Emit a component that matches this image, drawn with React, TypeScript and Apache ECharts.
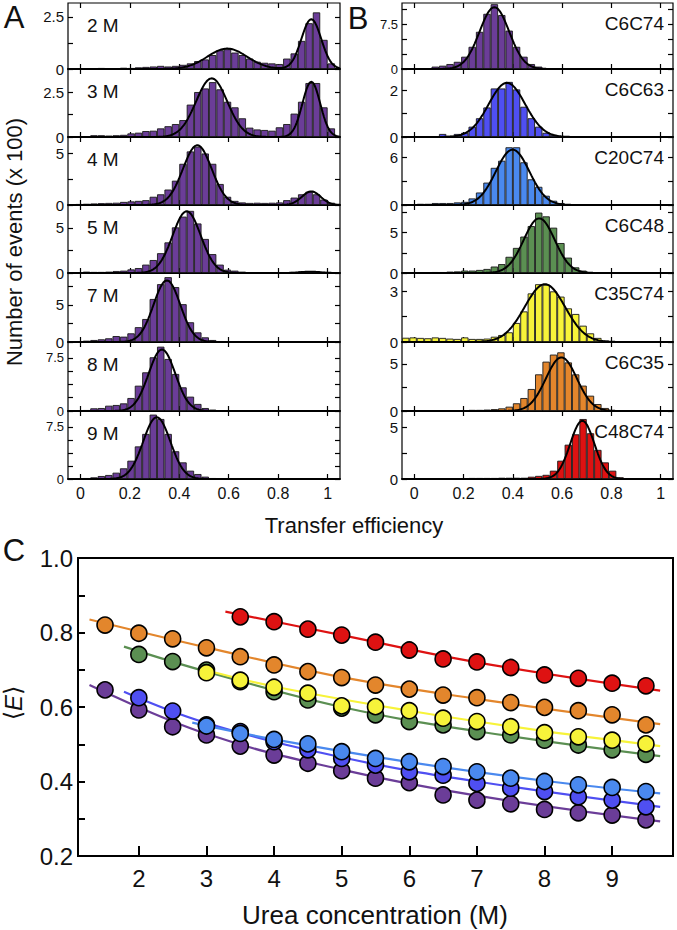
import React, { useEffect, useRef } from 'react';
import * as echarts from 'echarts';

// ---------- Data ----------
const binCenters = [-0.035, -0.005, 0.025, 0.055, 0.085, 0.115, 0.145, 0.175, 0.205, 0.235, 0.265, 0.295, 0.325, 0.355, 0.385, 0.415, 0.445, 0.475, 0.505, 0.535, 0.565, 0.595, 0.625, 0.655, 0.685, 0.715, 0.745, 0.775, 0.805, 0.835, 0.865, 0.895, 0.925, 0.955, 0.985, 1.015];

const ureaLabels = ['2 M', '3 M', '4 M', '5 M', '7 M', '8 M', '9 M'];
const variantLabels = ['C6C74', 'C6C63', 'C20C74', 'C6C48', 'C35C74', 'C6C35', 'C48C74'];

const h2M = [0.01, 0.02, 0.02, 0.03, 0.05, 0.04, 0.03, 0.06, 0.05, 0.08, 0.1, 0.12, 0.15, 0.12, 0.15, 0.2, 0.27, 0.38, 0.46, 0.67, 0.9, 0.95, 0.79, 0.67, 0.5, 0.35, 0.3, 0.27, 0.24, 0.5, 0.75, 1.35, 2.2, 2.72, 1.4, 0.27];
const h3M = [0.02, 0.03, 0.05, 0.1, 0.1, 0.08, 0.1, 0.12, 0.2, 0.24, 0.33, 0.35, 0.48, 0.6, 0.72, 0.94, 1.8, 2.5, 2.7, 3.05, 2.65, 1.96, 1.65, 1.04, 0.52, 0.42, 0.39, 0.35, 0.54, 0.72, 1.3, 1.96, 3.0, 3.0, 1.65, 0.48];
const h4M = [0.05, 0.1, 0.12, 0.15, 0.18, 0.2, 0.22, 0.3, 0.35, 0.4, 0.47, 0.8, 1.04, 1.5, 2.36, 4.0, 5.2, 5.66, 5.0, 4.0, 2.04, 0.8, 0.4, 0.25, 0.2, 0.22, 0.2, 0.22, 0.25, 0.47, 0.72, 1.04, 1.3, 1.04, 0.53, 0.22];
const h5M = [0.04, 0.08, 0.15, 0.12, 0.12, 0.15, 0.22, 0.26, 0.4, 0.55, 0.93, 1.44, 2.2, 3.4, 5.07, 6.26, 6.9, 5.5, 3.78, 2.1, 0.93, 0.37, 0.26, 0.15, 0.1, 0.08, 0.06, 0.06, 0.08, 0.1, 0.12, 0.18, 0.2, 0.18, 0.12, 0.06];
const h7M = [0.03, 0.08, 0.18, 0.27, 0.36, 0.5, 0.8, 0.72, 1.17, 2.0, 3.1, 5.8, 7.8, 8.74, 7.4, 5.1, 2.66, 1.3, 0.63, 0.27, 0.13, 0.06, 0.05, 0.05, 0.04, 0.04, 0.03, 0.03, 0.03, 0.02, 0.02, 0.02, 0.02, 0.02, 0.02, 0.02];
const h8M = [0.02, 0.05, 0.14, 0.38, 0.42, 0.75, 0.85, 1.08, 1.84, 3.58, 5.47, 7.6, 9.1, 7.36, 5.24, 3.35, 2.03, 1.0, 0.42, 0.2, 0.08, 0.05, 0.04, 0.04, 0.03, 0.03, 0.03, 0.02, 0.02, 0.02, 0.02, 0.02, 0.02, 0.02, 0.02, 0.02];
const h9M = [0.02, 0.05, 0.14, 0.24, 0.43, 0.58, 0.91, 1.54, 2.64, 4.7, 6.5, 9.28, 8.65, 6.5, 4.0, 2.4, 1.2, 0.72, 0.34, 0.14, 0.06, 0.04, 0.03, 0.03, 0.03, 0.02, 0.02, 0.02, 0.02, 0.02, 0.02, 0.02, 0.02, 0.02, 0.02, 0.02];

const hC6C74 = [0.02, 0.05, 0.1, 0.1, 0.4, 0.55, 0.83, 1.2, 2.05, 3.7, 6.2, 9.2, 10.8, 9.0, 6.4, 3.7, 2.05, 0.83, 0.4, 0.1, 0.05, 0.03, 0.03, 0.03, 0.03, 0.03, 0.03, 0.03, 0.03, 0.03, 0.03, 0.05, 0.05, 0.05, 0.05, 0.05];
const hC6C63 = [0.01, 0.02, 0.02, 0.03, 0.03, 0.13, 0.05, 0.13, 0.18, 0.44, 0.8, 1.26, 2.07, 2.07, 2.35, 2.03, 1.29, 0.8, 0.44, 0.18, 0.09, 0.04, 0.02, 0.02, 0.02, 0.02, 0.02, 0.02, 0.02, 0.02, 0.02, 0.02, 0.02, 0.02, 0.02, 0.02];
const hC20C74 = [0.08, 0.1, 0.15, 0.15, 0.25, 0.25, 0.25, 0.33, 0.4, 0.83, 1.58, 2.83, 4.7, 5.6, 7.3, 7.3, 5.4, 3.25, 2.3, 1.17, 0.54, 0.25, 0.1, 0.05, 0.05, 0.05, 0.05, 0.05, 0.05, 0.05, 0.05, 0.05, 0.05, 0.05, 0.05, 0.05];
const hC6C48 = [0.03, 0.05, 0.08, 0.1, 0.12, 0.12, 0.17, 0.2, 0.3, 0.3, 0.38, 0.5, 0.8, 1.1, 2.0, 3.1, 4.5, 5.8, 7.46, 7.0, 5.6, 3.7, 1.9, 0.7, 0.3, 0.08, 0.03, 0.03, 0.03, 0.03, 0.03, 0.03, 0.03, 0.03, 0.03, 0.03];
const hC35C74 = [0.25, 0.27, 0.24, 0.22, 0.27, 0.24, 0.2, 0.18, 0.27, 0.18, 0.18, 0.2, 0.31, 0.41, 0.57, 1.12, 1.8, 2.86, 3.4, 3.37, 2.98, 2.67, 1.98, 1.65, 0.96, 0.51, 0.24, 0.08, 0.02, 0.02, 0.02, 0.02, 0.02, 0.02, 0.02, 0.02];
const hC6C35 = [0.02, 0.03, 0.05, 0.05, 0.08, 0.05, 0.08, 0.1, 0.1, 0.12, 0.12, 0.15, 0.2, 0.28, 0.46, 0.82, 1.38, 2.34, 3.9, 5.25, 6.0, 6.24, 5.17, 3.9, 2.7, 1.63, 0.74, 0.32, 0.1, 0.03, 0.03, 0.03, 0.03, 0.03, 0.03, 0.03];
const hC48C74 = [0.03, 0.04, 0.05, 0.05, 0.06, 0.05, 0.06, 0.07, 0.08, 0.1, 0.1, 0.1, 0.1, 0.12, 0.12, 0.12, 0.12, 0.22, 0.3, 0.4, 0.8, 1.76, 3.3, 4.3, 5.77, 4.4, 2.8, 1.6, 0.8, 0.16, 0.05, 0.02, 0.02, 0.02, 0.02, 0.02];

// Gaussian fit parameters: [amplitude, centre, width]
const fit2M = [[0.98, 0.594, 0.08], [2.39, 0.934, 0.04]];
const fit3M = [[3.26, 0.531, 0.063], [3.07, 0.934, 0.036]];
const fit4M = [[5.8, 0.473, 0.058], [1.32, 0.934, 0.038]];
const fit5M = [[6.85, 0.43, 0.057], [0.15, 0.93, 0.04]];
const fit7M = [[8.3, 0.35, 0.054]];
const fit8M = [[8.7, 0.33, 0.054]];
const fit9M = [[8.9, 0.309, 0.055]];
const fitC6C74 = [[10.3, 0.325, 0.06]];
const fitC6C63 = [[2.31, 0.376, 0.074]];
const fitC20C74 = [[7.0, 0.399, 0.068]];
const fitC6C48 = [[6.75, 0.507, 0.063]];
const fitC35C74 = [[3.4, 0.53, 0.082]];
const fitC6C35 = [[5.7, 0.597, 0.063]];
const fitC48C74 = [[5.6, 0.682, 0.049]];

const leftHists = [h2M, h3M, h4M, h5M, h7M, h8M, h9M];
const rightHists = [hC6C74, hC6C63, hC20C74, hC6C48, hC35C74, hC6C35, hC48C74];
const leftFits = [fit2M, fit3M, fit4M, fit5M, fit7M, fit8M, fit9M];
const rightFits = [fitC6C74, fitC6C63, fitC20C74, fitC6C48, fitC35C74, fitC6C35, fitC48C74];

const leftYMax = [3.17, 3.78, 6.6, 7.55, 9.3, 9.76, 9.8];
const rightYMax = [11, 2.9, 8.6, 8.4, 4.06, 7.34, 6.54];
const leftYLabels = [[0, 2.5], [0, 2.5], [0, 5], [0, 5], [0, 5], [0, 7.5], [0, 7.5]];
const leftYTicks = [[0, 1.25, 2.5], [0, 1.25, 2.5], [0, 2.5, 5], [0, 2.5, 5], [0, 2.5, 5, 7.5], [0, 1.875, 3.75, 5.625, 7.5], [0, 1.875, 3.75, 5.625, 7.5]];
const rightYLabels = [[0, 7.5], [0, 2], [0, 6], [0, 5], [0, 3], [0, 5], [0, 5]];
const rightYTicks = [[0, 2.5, 5, 7.5, 10], [0, 1, 2], [0, 3, 6], [0, 2.5, 5, 7.5], [0, 1.5, 3], [0, 2.5, 5], [0, 2.5, 5]];
const effTicks = [0, 0.2, 0.4, 0.6, 0.8, 1];

// Panel C: mean transfer efficiency vs urea
const xFrom15 = [1.5, 2, 2.5, 3, 3.5, 4, 4.5, 5, 5.5, 6, 6.5, 7, 7.5, 8, 8.5, 9, 9.5];
const xFrom2 = [2, 2.5, 3, 3.5, 4, 4.5, 5, 5.5, 6, 6.5, 7, 7.5, 8, 8.5, 9, 9.5];
const xFrom3 = [3, 3.5, 4, 4.5, 5, 5.5, 6, 6.5, 7, 7.5, 8, 8.5, 9, 9.5];
const xFrom35 = [3.5, 4, 4.5, 5, 5.5, 6, 6.5, 7, 7.5, 8, 8.5, 9, 9.5];

const eC6C74 = [0.646, 0.592, 0.547, 0.525, 0.495, 0.471, 0.449, 0.429, 0.409, 0.397, 0.364, 0.35, 0.34, 0.325, 0.316, 0.31, 0.297];
const eC6C63 = [0.625, 0.589, 0.552, 0.534, 0.507, 0.485, 0.462, 0.444, 0.426, 0.417, 0.395, 0.382, 0.373, 0.359, 0.35, 0.332];
const eC20C74 = [0.549, 0.529, 0.513, 0.501, 0.48, 0.462, 0.453, 0.44, 0.426, 0.409, 0.4, 0.391, 0.384, 0.373];
const eC6C48 = [0.741, 0.722, 0.699, 0.668, 0.641, 0.619, 0.597, 0.579, 0.561, 0.552, 0.534, 0.525, 0.511, 0.498, 0.485, 0.473];
const eC35C74 = [0.692, 0.672, 0.653, 0.637, 0.603, 0.601, 0.59, 0.57, 0.561, 0.547, 0.531, 0.52, 0.511, 0.501];
const eC6C35 = [0.82, 0.798, 0.783, 0.759, 0.735, 0.713, 0.695, 0.679, 0.659, 0.648, 0.632, 0.625, 0.612, 0.599, 0.59, 0.579, 0.552];
const eC48C74 = [0.842, 0.829, 0.809, 0.793, 0.774, 0.753, 0.729, 0.721, 0.706, 0.686, 0.677, 0.664, 0.657];

// fitted curves, points
const lineC6C74 = [[1.27, 0.659], [3, 0.528], [5, 0.432], [7, 0.362], [9.71, 0.293]];
const lineC6C63 = [[1.78, 0.641], [3, 0.557], [5, 0.465], [7, 0.4], [9.71, 0.332]];
const lineC20C74 = [[2.79, 0.558], [4, 0.513], [6, 0.452], [8, 0.402], [9.71, 0.368]];
const lineC6C48 = [[1.78, 0.762], [3, 0.695], [5, 0.6], [7, 0.535], [9.71, 0.468]];
const lineC35C74 = [[2.89, 0.704], [4, 0.655], [6, 0.59], [8, 0.535], [9.71, 0.495]];
const lineC6C35 = [[1.27, 0.835], [3, 0.76], [5, 0.68], [7, 0.622], [9.71, 0.554]];
const lineC48C74 = [[3.28, 0.856], [5, 0.793], [7, 0.72], [9.71, 0.644]];

const ureaTicks = [2, 3, 4, 5, 6, 7, 8, 9];
const eTicks = [0.2, 0.3, 0.4, 0.5, 0.6, 0.7, 0.8, 0.9, 1.0];
const eLabels = [0.2, 0.4, 0.6, 0.8, 1.0];

// ---------- Styles ----------
const FONT = '"Liberation Sans", Arial, Helvetica, sans-serif';
const PURPLE = '#6b3d98';
const rightColors = [PURPLE, '#4f4ff2', '#4a89ef', '#5b8f52', '#f7f33a', '#e3862c', '#de1212'];
const panelTops = [3, 69, 137, 205, 273, 342, 411, 479];
const leftYFont = [15, 15, 15, 15, 15, 13, 13];
const rightYFont = [13, 15, 15, 15, 15, 15, 15];

function gaussCurve(params: number[][]) {
  const pts: number[][] = [];
  for (let i = 0; i <= 220; i++) {
    const x = -0.05 + i * 0.005;
    let y = 0;
    for (const [a, c, s] of params) y += a * Math.exp(-((x - c) * (x - c)) / (2 * s * s));
    pts.push([x, y]);
  }
  return pts;
}

function buildOption() {
  const grid: any[] = [];
  const xAxis: any[] = [];
  const yAxis: any[] = [];
  const series: any[] = [];
  const graphic: any[] = [];
  const tickStyle = { color: '#000', width: 1.2 };

  const addPanel = (col: number, i: number, hist: number[], fits: number[][], ymax: number, ylabels: number[], yticks: number[], color: string, yFont: number) => {
    const gi = grid.length;
    const left = col === 0 ? 68 : 402;
    const width = col === 0 ? 272 : 271;
    const top = panelTops[i];
    const height = panelTops[i + 1] - top;
    const isBottom = i === 6;
    grid.push({ left, top, width, height, show: true, borderColor: '#000', borderWidth: 1.2, backgroundColor: 'transparent' });
    xAxis.push({
      gridIndex: gi, type: 'value', min: -0.05, max: 1.05, position: 'bottom',
      axisLine: { show: true, onZero: false, lineStyle: { color: '#000', width: 2 } },
      axisTick: { show: true, inside: true, length: 5, customValues: effTicks, lineStyle: tickStyle },
      axisLabel: { show: isBottom, customValues: effTicks, fontSize: 16, color: '#111', margin: 6, fontFamily: FONT },
      splitLine: { show: false },
    });
    xAxis.push({
      gridIndex: gi, type: 'value', min: -0.05, max: 1.05, position: 'top',
      axisLine: { show: false, onZero: false },
      axisTick: { show: true, inside: true, length: 5, customValues: effTicks, lineStyle: tickStyle },
      axisLabel: { show: false },
      splitLine: { show: false },
    });
    yAxis.push({
      gridIndex: gi, type: 'value', min: 0, max: ymax, position: 'left',
      axisLine: { show: false, onZero: false },
      axisTick: { show: true, inside: true, length: 5, customValues: yticks, lineStyle: tickStyle },
      axisLabel: { show: true, customValues: ylabels, fontSize: yFont, color: '#111', margin: 4, fontFamily: FONT },
      splitLine: { show: false },
    });
    yAxis.push({
      gridIndex: gi, type: 'value', min: 0, max: ymax, position: 'right',
      axisLine: { show: false, onZero: false },
      axisTick: { show: true, inside: true, length: 5, customValues: yticks, lineStyle: tickStyle },
      axisLabel: { show: false },
      splitLine: { show: false },
    });
    series.push({
      type: 'bar', xAxisIndex: 2 * gi, yAxisIndex: 2 * gi,
      data: binCenters.map((c, k) => [c, hist[k]]),
      barWidth: (0.03 * width) / 1.1,
      itemStyle: { color, borderColor: '#1a1a1a', borderWidth: 0.9 },
      silent: true, z: 2,
    });
    series.push({
      type: 'line', xAxisIndex: 2 * gi, yAxisIndex: 2 * gi,
      data: gaussCurve(fits), showSymbol: false, symbol: 'none',
      lineStyle: { color: '#000', width: 2 }, silent: true, z: 3,
    });
    const label = col === 0 ? ureaLabels[i] : variantLabels[i];
    graphic.push({
      type: 'text', x: col === 0 ? 87 : 664, y: top + (col === 0 ? 22 : 20), z: 10,
      style: { text: label, fontSize: 19, fontFamily: FONT, fill: '#111', textAlign: col === 0 ? 'left' : 'right', textVerticalAlign: 'middle' },
    });
  };

  for (let i = 0; i < 7; i++) {
    addPanel(0, i, leftHists[i], leftFits[i], leftYMax[i], leftYLabels[i], leftYTicks[i], PURPLE, leftYFont[i]);
  }
  for (let i = 0; i < 7; i++) {
    addPanel(1, i, rightHists[i], rightFits[i], rightYMax[i], rightYLabels[i], rightYTicks[i], rightColors[i], rightYFont[i]);
  }

  // Panel C
  const gc = grid.length;
  grid.push({ left: 78, top: 558, width: 595, height: 298, show: true, borderColor: '#000', borderWidth: 2 });
  xAxis.push({
    gridIndex: gc, type: 'value', min: 1.1, max: 9.9, position: 'bottom',
    axisLine: { show: true, onZero: false, lineStyle: { color: '#000', width: 2 } },
    axisTick: { show: true, inside: true, length: 10, customValues: ureaTicks, lineStyle: { color: '#000', width: 2 } },
    axisLabel: { show: true, customValues: ureaTicks, fontSize: 24, color: '#111', margin: 10, fontFamily: FONT },
    splitLine: { show: false },
  });
  yAxis.push({
    gridIndex: gc, type: 'value', min: 0.2, max: 1.0, position: 'left',
    axisLine: { show: true, onZero: false, lineStyle: { color: '#000', width: 2 } },
    axisTick: { show: true, inside: true, length: 7, customValues: eTicks, lineStyle: { color: '#000', width: 2 } },
    axisLabel: { show: true, customValues: eLabels, fontSize: 24, color: '#111', margin: 5, fontFamily: FONT, formatter: (v: number) => v.toFixed(1) },
    splitLine: { show: false },
  });
  const cx = xAxis.length - 1;
  const cy = yAxis.length - 1;
  const cSeries = [
    { x: xFrom15, y: eC6C74, line: lineC6C74, color: rightColors[0] },
    { x: xFrom2, y: eC6C63, line: lineC6C63, color: rightColors[1] },
    { x: xFrom3, y: eC20C74, line: lineC20C74, color: rightColors[2] },
    { x: xFrom2, y: eC6C48, line: lineC6C48, color: rightColors[3] },
    { x: xFrom3, y: eC35C74, line: lineC35C74, color: rightColors[4] },
    { x: xFrom15, y: eC6C35, line: lineC6C35, color: rightColors[5] },
    { x: xFrom35, y: eC48C74, line: lineC48C74, color: rightColors[6] },
  ];
  cSeries.forEach((s) => {
    series.push({
      type: 'line', xAxisIndex: cx, yAxisIndex: cy, data: s.line, showSymbol: false, symbol: 'none', smooth: 0.4,
      lineStyle: { color: s.color, width: 2.2 }, z: 2, silent: true,
    });
  });
  cSeries.forEach((s, idx) => {
    series.push({
      type: 'scatter', xAxisIndex: cx, yAxisIndex: cy,
      data: s.x.map((xv, k) => [xv, s.y[k]]),
      symbolSize: 16,
      itemStyle: { color: s.color, borderColor: '#000', borderWidth: 1.6, opacity: 1 },
      z: 3 + idx, silent: true,
    });
  });

  // Titles and panel letters
  const txt = (text: string, x: number, y: number, fontSize: number, extra: any = {}) => ({
    type: 'text', x, y, z: 10, ...extra,
    style: { text, fontSize, fontFamily: FONT, fill: '#111', textAlign: 'center', textVerticalAlign: 'middle' },
  });
  graphic.push(txt('A', 14, 17, 31));
  graphic.push(txt('B', 358, 18, 31));
  graphic.push(txt('C', 14, 550, 31));
  graphic.push(txt('Number of events (x 100)', 14, 242, 22, { rotation: Math.PI / 2 }));
  graphic.push(txt('Transfer efficiency', 354, 525, 22));
  graphic.push(txt('Urea concentration (M)', 375, 915, 26));
  graphic.push({
    type: 'text', x: 13, y: 703, rotation: Math.PI / 2, z: 10,
    style: {
      text: '{n|⟨}{i|E}{n|⟩}', textAlign: 'center', textVerticalAlign: 'middle', fill: '#111',
      rich: {
        n: { fontSize: 24, fontFamily: '"DejaVu Sans", sans-serif', fill: '#111' },
        i: { fontSize: 24, fontStyle: 'italic', fontFamily: FONT, fill: '#111' },
      },
    },
  });

  return {
    animation: false,
    backgroundColor: '#ffffff',
    grid, xAxis, yAxis, series, graphic,
  };
}

export default function App() {
  const ref = useRef<HTMLDivElement>(null);
  useEffect(() => {
    if (!ref.current) return;
    const chart = echarts.init(ref.current, undefined, { renderer: 'svg' });
    chart.setOption(buildOption() as any);
    return () => chart.dispose();
  }, []);
  return <div ref={ref} style={{ position: 'absolute', left: 0, top: 0, width: 677, height: 930, background: '#fff' }} />;
}
